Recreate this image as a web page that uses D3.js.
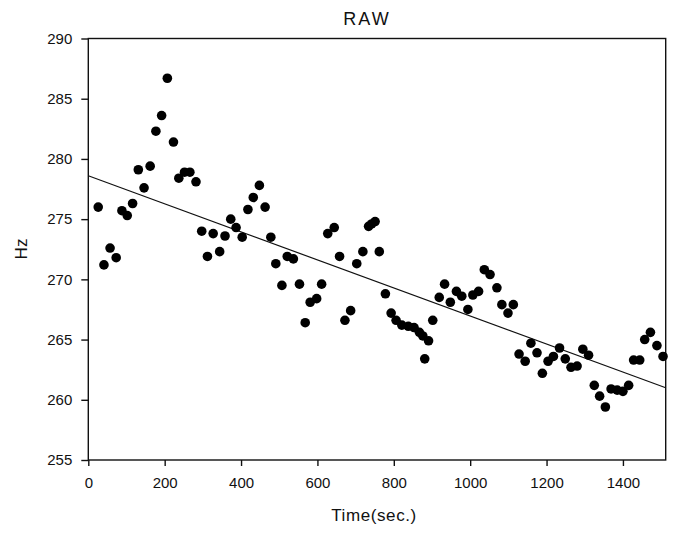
<!DOCTYPE html>
<html>
<head>
<meta charset="utf-8">
<script src="https://cdn.jsdelivr.net/npm/d3@7"></script>
<style>
  body { margin: 0; background: #fff; }
  svg text { font-family: "Liberation Sans", Arial, sans-serif; fill: #111; }
  .axis text { font-size: 15px; }
  .axis path, .axis line { stroke: #111; stroke-width: 1.4px; }
</style>
</head>
<body>
<svg id="chart" width="684" height="533"></svg>
<script>
// time (sec.) and pitch (Hz)
const times = [26, 41, 57, 73, 88, 102, 116, 131, 146, 162, 177, 192, 207, 223, 237, 252, 266, 282,
  297, 312, 327, 344, 358, 373, 387, 403, 418, 432, 448, 463, 478, 491, 507, 521, 537, 553, 568,
  581, 598, 611, 627, 644, 658, 672, 687, 703, 719, 734, 742, 751, 762, 778, 793, 806, 821, 838,
  853, 867, 876, 881, 891, 902, 919, 933, 948, 964, 978, 994, 1007, 1022, 1037, 1052, 1070, 1083,
  1099, 1113, 1128, 1144, 1159, 1175, 1189, 1204, 1218, 1234, 1249, 1264, 1280, 1295, 1310, 1325,
  1339, 1354, 1369, 1385, 1400, 1415, 1428, 1444, 1457, 1472, 1489, 1505];
const hz = [276.0, 271.2, 272.6, 271.8, 275.7, 275.3, 276.3, 279.1, 277.6, 279.4, 282.3, 283.6, 286.7,
  281.4, 278.4, 278.9, 278.9, 278.1, 274.0, 271.9, 273.8, 272.3, 273.6, 275.0, 274.3, 273.5, 275.8,
  276.8, 277.8, 276.0, 273.5, 271.3, 269.5, 271.9, 271.7, 269.6, 266.4, 268.1, 268.4, 269.6, 273.8,
  274.3, 271.9, 266.6, 267.4, 271.3, 272.3, 274.4, 274.6, 274.8, 272.3, 268.8, 267.2, 266.6, 266.2,
  266.1, 266.0, 265.6, 265.3, 263.4, 264.9, 266.6, 268.5, 269.6, 268.1, 269.0, 268.6, 267.5, 268.7,
  269.0, 270.8, 270.4, 269.3, 267.9, 267.2, 267.9, 263.8, 263.2, 264.7, 263.9, 262.2, 263.2, 263.6,
  264.3, 263.4, 262.7, 262.8, 264.2, 263.7, 261.2, 260.3, 259.4, 260.9, 260.8, 260.7, 261.2, 263.3,
  263.3, 265.0, 265.6, 264.5, 263.6];

// fitted line end points
const fitX = [0, 1512];
const fitY = [278.6, 261.0];

const xTicks = [0, 200, 400, 600, 800, 1000, 1200, 1400];
const yTicks = [255, 260, 265, 270, 275, 280, 285, 290];

const mLeft = 88.3, mRight = 665.7, mTop = 38.5, mBottom = 460;

let svg = d3.select("#chart");

let xScale = d3.scaleLinear().domain([0, 1512]).range([mLeft, mRight]);
let yScale = d3.scaleLinear().domain([255, 290]).range([mBottom, mTop]);

// frame
svg.append("rect")
    .attr("x", mLeft).attr("y", mTop)
    .attr("width", mRight - mLeft).attr("height", mBottom - mTop)
    .attr("fill", "none").attr("stroke", "#111").attr("stroke-width", 1.4);

// axes
svg.append("g").attr("class", "axis")
    .attr("transform", `translate(0,${mBottom})`)
    .call(d3.axisBottom(xScale).tickValues(xTicks).tickFormat(d3.format("d"))
        .tickSize(6).tickPadding(11).tickSizeOuter(0))
    .call(g => g.select(".domain").remove());

svg.append("g").attr("class", "axis")
    .attr("transform", `translate(${mLeft},0)`)
    .call(d3.axisLeft(yScale).tickValues(yTicks).tickFormat(d3.format("d"))
        .tickSize(7).tickPadding(9).tickSizeOuter(0))
    .call(g => g.select(".domain").remove());

// fitted line
svg.append("line")
    .attr("x1", xScale(fitX[0])).attr("y1", yScale(fitY[0]))
    .attr("x2", xScale(fitX[1])).attr("y2", yScale(fitY[1]))
    .attr("stroke", "#111").attr("stroke-width", 1.2);

// points
svg.selectAll(".pt")
    .data(times)
    .enter()
    .append("circle")
    .attr("class", "pt")
    .attr("cx", (d, i) => xScale(times[i]))
    .attr("cy", (d, i) => yScale(hz[i]))
    .attr("r", 4.8)
    .attr("fill", "#000");

// title
svg.append("text")
    .attr("x", 367).attr("y", 25)
    .attr("text-anchor", "middle")
    .style("font-size", "18px")
    .style("letter-spacing", "2px")
    .text("RAW");

// labels
svg.append("text")
    .attr("x", 374).attr("y", 521)
    .attr("text-anchor", "middle")
    .style("font-size", "17px")
    .style("letter-spacing", "0.6px")
    .text("Time(sec.)");

svg.append("text")
    .attr("transform", `translate(27,249) rotate(-90)`)
    .attr("text-anchor", "middle")
    .style("font-size", "17px")
    .text("Hz");
</script>
</body>
</html>
